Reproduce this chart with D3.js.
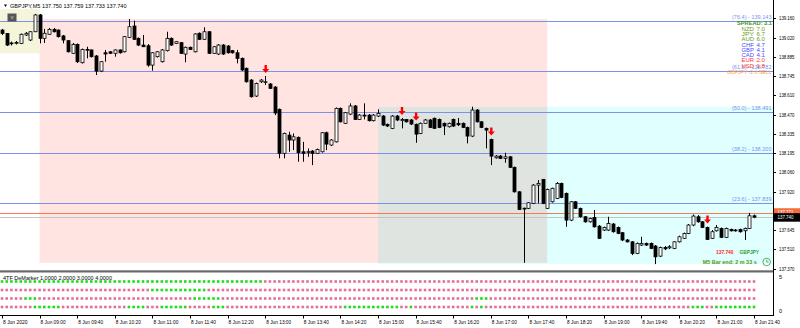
<!DOCTYPE html>
<html>
<head>
<meta charset="utf-8">
<script src="https://cdn.jsdelivr.net/npm/d3@7"></script>
<style>
html, body { margin: 0; padding: 0; background: #fff; overflow: hidden; }
svg { display: block; font-family: "Liberation Sans", Arial, sans-serif; }
</style>
</head>
<body>
<div id="stage"></div>
<script>
const width = 800;
const height = 328;

// GBPJPY M5, 8 Jun 2020 08:20 .. 21:40 (161 bars)
const opens = [
    139.076, 139.051, 138.980, 138.984, 138.981, 139.041, 139.005, 139.064, 139.184, 139.017,
    139.046, 139.081, 139.076, 139.034, 139.000, 138.910, 138.974, 138.843, 138.938, 138.934,
    138.891, 138.783, 138.914, 138.921, 138.910, 138.934, 138.921, 139.024, 139.105, 139.017,
    138.969, 138.964, 138.826, 138.886, 138.850, 138.929, 139.017, 138.981, 138.986, 138.905,
    138.953, 138.921, 139.053, 139.010, 139.064, 138.910, 138.905, 138.969, 138.962, 138.929,
    138.914, 138.874, 138.803, 138.719, 138.605, 138.707, 138.705, 138.691, 138.669, 138.510,
    138.196, 138.326, 138.291, 138.310, 138.207, 138.205, 138.212, 138.196, 138.207, 138.343,
    138.255, 138.278, 138.517, 138.410, 138.476, 138.534, 138.438, 138.469, 138.469, 138.429,
    138.462, 138.462, 138.403, 138.374, 138.462, 138.429, 138.438, 138.434, 138.403, 138.338,
    138.410, 138.434, 138.446, 138.438, 138.410, 138.386, 138.438, 138.410, 138.410, 138.381,
    138.319, 138.505, 138.421, 138.374, 138.295, 138.164, 138.176, 138.160, 138.171, 138.096,
    137.921, 137.801, 137.803, 137.838, 137.969, 138.010, 137.803, 137.850, 137.874, 137.981,
    137.910, 137.719, 137.850, 137.803, 137.743, 137.707, 137.738, 137.676, 137.648, 137.648,
    137.691, 137.667, 137.629, 137.577, 137.564, 137.481, 137.541, 137.553, 137.553, 137.534,
    137.462, 137.524, 137.521, 137.517, 137.564, 137.589, 137.624, 137.684, 137.743, 137.707,
    137.667, 137.589, 137.643, 137.660, 137.596, 137.653, 137.648, 137.653, 137.643, 137.660,
    137.750
];
const highs = [
    139.084, 139.055, 138.994, 138.998, 139.051, 139.062, 139.069, 139.191, 139.191, 139.084,
    139.091, 139.091, 139.080, 139.041, 139.005, 138.984, 138.980, 138.944, 138.957, 138.937,
    138.898, 138.855, 138.934, 138.926, 138.938, 138.937, 139.034, 139.155, 139.143, 139.023,
    139.041, 138.976, 138.919, 138.926, 138.941, 139.064, 139.023, 138.998, 138.991, 138.958,
    138.958, 139.053, 139.059, 139.096, 139.069, 138.962, 138.976, 138.976, 138.969, 138.934,
    138.934, 138.880, 138.808, 138.726, 138.701, 138.726, 138.748, 138.698, 138.676, 138.516,
    138.344, 138.350, 138.338, 138.316, 138.278, 138.231, 138.219, 138.230, 138.348, 138.351,
    138.298, 138.523, 138.523, 138.491, 138.553, 138.541, 138.476, 138.553, 138.476, 138.476,
    138.510, 138.469, 138.408, 138.469, 138.469, 138.448, 138.441, 138.441, 138.408, 138.416,
    138.441, 138.441, 138.451, 138.444, 138.416, 138.416, 138.444, 138.448, 138.416, 138.387,
    138.529, 138.512, 138.426, 138.380, 138.301, 138.184, 138.184, 138.200, 138.176, 138.101,
    137.926, 137.808, 137.848, 137.976, 138.005, 138.012, 137.944, 137.951, 137.991, 137.987,
    137.916, 137.855, 137.855, 137.808, 137.748, 137.737, 137.791, 137.684, 137.673, 137.743,
    137.698, 137.673, 137.634, 137.584, 137.569, 137.559, 137.600, 137.559, 137.559, 137.541,
    137.530, 137.534, 137.541, 137.569, 137.608, 137.630, 137.691, 137.759, 137.755, 137.712,
    137.673, 137.648, 137.684, 137.666, 137.666, 137.658, 137.655, 137.658, 137.666, 137.771,
    137.759
];
const lows = [
    139.041, 138.962, 138.966, 138.973, 138.976, 139.034, 138.998, 139.062, 138.981, 138.984,
    139.041, 139.059, 139.023, 138.981, 138.916, 138.905, 138.841, 138.837, 138.874, 138.880,
    138.755, 138.776, 138.850, 138.905, 138.886, 138.908, 138.916, 139.019, 139.005, 138.962,
    138.955, 138.814, 138.786, 138.880, 138.844, 138.923, 138.962, 138.976, 138.905, 138.846,
    138.934, 138.916, 139.005, 139.005, 138.905, 138.905, 138.898, 138.898, 138.908, 138.908,
    138.838, 138.783, 138.701, 138.594, 138.598, 138.698, 138.684, 138.655, 138.469, 138.160,
    138.160, 138.207, 138.219, 138.136, 138.136, 138.171, 138.112, 138.191, 138.201, 138.219,
    138.248, 138.273, 138.416, 138.405, 138.469, 138.434, 138.434, 138.438, 138.423, 138.423,
    138.455, 138.391, 138.384, 138.369, 138.426, 138.374, 138.416, 138.398, 138.271, 138.333,
    138.405, 138.376, 138.369, 138.376, 138.326, 138.380, 138.384, 138.391, 138.376, 138.267,
    138.312, 138.416, 138.376, 138.231, 138.112, 138.158, 138.155, 138.129, 138.091, 137.916,
    137.791, 137.414, 137.798, 137.833, 137.838, 137.833, 137.798, 137.844, 137.869, 137.876,
    137.671, 137.712, 137.798, 137.737, 137.701, 137.701, 137.666, 137.584, 137.641, 137.641,
    137.630, 137.619, 137.569, 137.559, 137.469, 137.476, 137.534, 137.534, 137.512, 137.405,
    137.455, 137.505, 137.512, 137.512, 137.559, 137.584, 137.619, 137.676, 137.701, 137.662,
    137.577, 137.584, 137.637, 137.591, 137.591, 137.637, 137.637, 137.630, 137.577, 137.655,
    137.733
];
const closes = [
    139.051, 138.969, 138.984, 138.987, 139.046, 139.053, 139.064, 139.184, 139.017, 139.053,
    139.081, 139.064, 139.029, 139.005, 138.921, 138.974, 138.850, 138.938, 138.934, 138.886,
    138.783, 138.850, 138.905, 138.910, 138.934, 138.914, 139.029, 139.100, 139.010, 138.969,
    138.957, 138.826, 138.914, 138.921, 138.934, 139.017, 138.969, 138.993, 138.910, 138.953,
    138.938, 139.048, 139.010, 139.064, 138.910, 138.957, 138.969, 138.905, 138.914, 138.914,
    138.874, 138.791, 138.707, 138.600, 138.695, 138.719, 138.707, 138.660, 138.484, 138.196,
    138.338, 138.291, 138.314, 138.200, 138.196, 138.208, 138.196, 138.224, 138.343, 138.262,
    138.291, 138.517, 138.421, 138.486, 138.534, 138.438, 138.469, 138.462, 138.429, 138.469,
    138.481, 138.398, 138.391, 138.462, 138.434, 138.438, 138.421, 138.405, 138.333, 138.410,
    138.434, 138.381, 138.374, 138.381, 138.391, 138.410, 138.391, 138.400, 138.381, 138.319,
    138.505, 138.421, 138.381, 138.362, 138.176, 138.176, 138.160, 138.171, 138.096, 137.921,
    137.795, 137.804, 137.843, 137.969, 137.981, 137.838, 137.938, 137.946, 137.981, 137.881,
    137.719, 137.850, 137.803, 137.743, 137.707, 137.731, 137.671, 137.589, 137.667, 137.695,
    137.636, 137.624, 137.577, 137.564, 137.481, 137.553, 137.553, 137.541, 137.517, 137.457,
    137.524, 137.514, 137.529, 137.564, 137.600, 137.624, 137.684, 137.748, 137.707, 137.667,
    137.581, 137.636, 137.667, 137.596, 137.660, 137.643, 137.643, 137.636, 137.660, 137.750,
    137.740
];

const askPrice = 137.771;
const bidPrice = 137.740;

const priceTicks = [139.160, 139.020, 138.885, 138.745, 138.610, 138.470, 138.335,
                    138.195, 138.060, 137.920, 137.785, 137.645, 137.510, 137.370];

const fibLevels = ['76.4', '61.8', '50.0', '38.2', '23.6'];
const fibPrices = [139.143, 138.782, 138.491, 138.200, 137.839];

// bars with a sell arrow above them
const arrowBars = [56, 85, 88, 104, 150];

// session boxes (bar index from/to, price low/high)
const boxFrom = [-12, 8, 80];
const boxTo = [8, 116, 175];
const boxLow = [138.910, 137.414, 137.405];
const boxHigh = [139.226, 139.155, 138.529];
const boxColors = ['#f5f5dc', '#ffe4e1', '#e0ffff'];

const strengthNames = ['NZD', 'JPY', 'AUD', 'CHF', 'GBP', 'CAD', 'EUR', 'USD'];
const strengthValues = [7.0, 6.7, 6.0, 4.7, 4.1, 4.1, 2.0, 1.8];

// 4TF DeMarker: level of each row and the bar ranges shown green
const demLevels = [4, 3, 2, 1];
const demGreen = [
    [[0, 55]],
    [[32, 43]],
    [[5, 7], [41, 46], [101, 103]],
    [[7, 12], [27, 30], [34, 39], [45, 47], [73, 84], [87, 87], [100, 100], [102, 102], [147, 149], [152, 160]]
];

const startTime = new Date(2020, 5, 8, 8, 20);
const barTimes = opens.map((d, i) => d3.timeMinute.offset(startTime, 5 * i));

// ---------------------------------------------------------------
const x = d3.scaleLinear().domain([0, 160]).range([2, 754]);
const y = d3.scaleLinear().domain([137.370, 139.160]).range([269, 18.3]);
const yDem = d3.scaleLinear().domain([0, 5]).range([315.5, 273]);

const plotRight = 773;

const svg = d3.select('#stage')
    .append('svg')
    .attr('width', width)
    .attr('height', height)
    .attr('viewBox', [0, 0, width, height]);

svg.append('clipPath').attr('id', 'plotClip')
    .append('rect').attr('x', 0).attr('y', 0).attr('width', plotRight).attr('height', 270);

const plot = svg.append('g').attr('clip-path', 'url(#plotClip)');

// session boxes
const boxes = boxFrom.map((f, k) => ({
    x0: x(f), x1: x(boxTo[k]), y0: y(boxHigh[k]), y1: y(boxLow[k]), color: boxColors[k]
}));
plot.selectAll('rect.box')
    .data(boxes)
    .join('rect')
    .attr('class', 'box')
    .attr('x', d => d.x0)
    .attr('y', d => d.y0)
    .attr('width', d => d.x1 - d.x0)
    .attr('height', d => d.y1 - d.y0)
    .attr('fill', d => d.color);

// the London / New York overlap is drawn xor-ed like the terminal does
const a = boxes[1], b = boxes[2];
const ca = d3.rgb(a.color), cb = d3.rgb(b.color);
const overlapColor = d3.rgb(ca.r ^ cb.r ^ 255, ca.g ^ cb.g ^ 255, ca.b ^ cb.b ^ 255);
plot.append('rect')
    .attr('x', Math.max(a.x0, b.x0))
    .attr('y', Math.max(a.y0, b.y0))
    .attr('width', Math.min(a.x1, b.x1) - Math.max(a.x0, b.x0))
    .attr('height', Math.min(a.y1, b.y1) - Math.max(a.y0, b.y0))
    .attr('fill', overlapColor);

// fibo levels
plot.selectAll('line.fib')
    .data(fibPrices)
    .join('line')
    .attr('class', 'fib')
    .attr('x1', 0).attr('x2', plotRight)
    .attr('y1', d => Math.round(y(d)) + 0.5)
    .attr('y2', d => Math.round(y(d)) + 0.5)
    .attr('stroke', '#7a92ea')
    .attr('stroke-width', 1);

// ask / bid lines
plot.append('line')
    .attr('x1', 0).attr('x2', plotRight)
    .attr('y1', Math.round(y(askPrice)) + 0.5).attr('y2', Math.round(y(askPrice)) + 0.5)
    .attr('stroke', '#f47a50');
plot.append('line')
    .attr('x1', 0).attr('x2', plotRight)
    .attr('y1', Math.round(y(bidPrice)) + 0.5).attr('y2', Math.round(y(bidPrice)) + 0.5)
    .attr('stroke', '#c4c4c4');

// candles
const bars = opens.map((o, i) => ({i: i, o: o, h: highs[i], l: lows[i], c: closes[i]}));
const candle = plot.selectAll('g.candle')
    .data(bars)
    .join('g')
    .attr('class', 'candle');

candle.append('line')
    .attr('x1', d => Math.round(x(d.i)) + 0.5)
    .attr('x2', d => Math.round(x(d.i)) + 0.5)
    .attr('y1', d => y(d.h))
    .attr('y2', d => y(d.l))
    .attr('stroke', '#000')
    .attr('stroke-width', 1);

candle.append('rect')
    .attr('x', d => Math.round(x(d.i)) - 1)
    .attr('y', d => y(Math.max(d.o, d.c)))
    .attr('width', 3)
    .attr('height', d => Math.max(0.8, Math.abs(y(d.o) - y(d.c))))
    .attr('fill', d => d.c >= d.o ? '#fff' : '#000')
    .attr('stroke', '#000')
    .attr('stroke-width', 0.8);

// sell arrows
plot.selectAll('path.arrow')
    .data(arrowBars)
    .join('path')
    .attr('class', 'arrow')
    .attr('d', i => {
        const cx = x(i) + 0.5, tip = y(highs[i]) - 3;
        return `M${cx - 1.2},${tip - 8} h2.4 v4 h2.3 l-3.5,4 l-3.5,-4 h2.3 z`;
    })
    .attr('fill', '#ff0000');

// fibo labels
plot.selectAll('text.fib')
    .data(fibPrices)
    .join('text')
    .attr('class', 'fib')
    .attr('x', 771.5)
    .attr('y', d => y(d) - 2)
    .attr('text-anchor', 'end')
    .attr('font-size', 5.5)
    .attr('fill', '#7a92ea')
    .attr('textLength', 39.5)
    .attr('lengthAdjust', 'spacingAndGlyphs')
    .text((d, k) => `(${fibLevels[k]}) - ${d.toFixed(3)}`);

// currency strength panel
svg.append('text')
    .attr('x', 772).attr('y', 24.5)
    .attr('text-anchor', 'end')
    .attr('font-size', 6).attr('font-weight', 'bold')
    .attr('fill', '#3b8f1f')
    .attr('textLength', 35).attr('lengthAdjust', 'spacingAndGlyphs')
    .text('SPREAD: 3.1');

const strengthColor = v => v >= 5 ? '#6b9a1a' : (v >= 3 ? '#4a4aff' : '#ff3333');
const strength = svg.selectAll('g.strength')
    .data(strengthNames)
    .join('g')
    .attr('class', 'strength');
strength.append('text')
    .attr('x', 754).attr('y', (d, k) => 30.6 + k * 5.3)
    .attr('text-anchor', 'end')
    .attr('font-size', 5.5)
    .attr('fill', (d, k) => strengthColor(strengthValues[k]))
    .attr('textLength', 12.5).attr('lengthAdjust', 'spacingAndGlyphs')
    .text(d => d);
strength.append('text')
    .attr('x', 756.5).attr('y', (d, k) => 30.6 + k * 5.3)
    .attr('font-size', 5.5)
    .attr('fill', (d, k) => strengthColor(strengthValues[k]))
    .attr('textLength', 8.5).attr('lengthAdjust', 'spacingAndGlyphs')
    .text((d, k) => strengthValues[k].toFixed(1));

svg.append('text')
    .attr('x', 771.5).attr('y', 73.6)
    .attr('text-anchor', 'end')
    .attr('font-size', 5.5)
    .attr('fill', '#ffa64d')
    .attr('textLength', 44.5).attr('lengthAdjust', 'spacingAndGlyphs')
    .text('GBPJPY -2.6 SELL');

// bottom right info
svg.append('text')
    .attr('x', 716).attr('y', 254.2)
    .attr('font-size', 6).attr('font-weight', 'bold')
    .attr('fill', '#ff2222')
    .attr('textLength', 17.5).attr('lengthAdjust', 'spacingAndGlyphs')
    .text('137.740');
svg.append('text')
    .attr('x', 739.5).attr('y', 254.2)
    .attr('font-size', 6).attr('font-weight', 'bold')
    .attr('fill', '#2e9e2e')
    .attr('textLength', 19.5).attr('lengthAdjust', 'spacingAndGlyphs')
    .text('GBPJPY');
svg.append('text')
    .attr('x', 702.7).attr('y', 264.2)
    .attr('font-size', 6).attr('font-weight', 'bold')
    .attr('fill', '#4f9a10')
    .attr('textLength', 54).attr('lengthAdjust', 'spacingAndGlyphs')
    .text('M5 Bar end: 2 m 33 s');
const clock = svg.append('g').attr('transform', 'translate(766.7,262)')
    .attr('stroke', '#3d9d3d').attr('fill', 'none').attr('stroke-width', 0.8);
clock.append('circle').attr('r', 3.8);
clock.append('path').attr('d', 'M0,-2.4 V0 H2');

// title
svg.append('path').attr('d', 'M4,4.5 h3 l-1.5,2.5 z').attr('fill', '#000');
svg.append('text')
    .attr('x', 10).attr('y', 7.8)
    .attr('font-size', 5.5)
    .attr('fill', '#000')
    .attr('textLength', 116.5).attr('lengthAdjust', 'spacingAndGlyphs')
    .text(`GBPJPY,M5 ${opens[160].toFixed(3)} ${highs[160].toFixed(3)} ${lows[160].toFixed(3)} ${closes[160].toFixed(3)}`);
svg.append('rect')
    .attr('x', 7.5).attr('y', 13.5).attr('width', 9).attr('height', 8)
    .attr('fill', '#555');
svg.append('text')
    .attr('x', 12).attr('y', 19.3)
    .attr('text-anchor', 'middle')
    .attr('font-size', 5.5)
    .attr('fill', '#ddd')
    .text('v');

// price axis
svg.append('line')
    .attr('x1', plotRight + 0.5).attr('x2', plotRight + 0.5)
    .attr('y1', 0).attr('y2', 316)
    .attr('stroke', '#000');
svg.selectAll('line.ptick')
    .data(priceTicks)
    .join('line')
    .attr('class', 'ptick')
    .attr('x1', plotRight).attr('x2', plotRight + 3)
    .attr('y1', d => Math.round(y(d)) + 0.5)
    .attr('y2', d => Math.round(y(d)) + 0.5)
    .attr('stroke', '#000');
svg.selectAll('text.ptick')
    .data(priceTicks)
    .join('text')
    .attr('class', 'ptick')
    .attr('x', 779).attr('y', d => y(d) + 2)
    .attr('font-size', 5.5)
    .attr('fill', '#000')
    .attr('textLength', 15.5).attr('lengthAdjust', 'spacingAndGlyphs')
    .text(d => d.toFixed(3));

// ask / bid price boxes
[[askPrice, '#f36d3c', -4.6], [bidPrice, '#000', -4]].forEach(([p, col, off]) => {
    svg.append('rect')
        .attr('x', plotRight + 1).attr('y', y(p) + off)
        .attr('width', 27).attr('height', 8.5)
        .attr('fill', col);
    svg.append('text')
        .attr('x', 777.5).attr('y', y(p) + off + 6.2)
        .attr('font-size', 5.5)
        .attr('fill', '#fff')
        .attr('textLength', 16).attr('lengthAdjust', 'spacingAndGlyphs')
        .text(p.toFixed(3));
});

// panel separator
svg.append('rect')
    .attr('x', 0).attr('y', 270.3).attr('width', plotRight).attr('height', 2.2)
    .attr('fill', '#6a6a6a');

// DeMarker panel
const dots = [];
demLevels.forEach((lvl, r) => {
    opens.forEach((o, i) => {
        const green = demGreen[r].some(([s, e]) => i >= s && i <= e);
        dots.push({i: i, lvl: lvl, green: green});
    });
});
svg.selectAll('rect.dot')
    .data(dots)
    .join('rect')
    .attr('class', 'dot')
    .attr('x', d => x(d.i) - 1.3)
    .attr('y', d => yDem(d.lvl) - 1.3)
    .attr('width', 2.6)
    .attr('height', 2.6)
    .attr('fill', d => d.green ? '#1fdc1f' : '#e3709a');

svg.append('text')
    .attr('x', 3).attr('y', 280.3)
    .attr('font-size', 5.5)
    .attr('fill', '#000')
    .attr('textLength', 109).attr('lengthAdjust', 'spacingAndGlyphs')
    .text('4TF DeMarker 1.0000 2.0000 3.0000 4.0000');

svg.append('text')
    .attr('x', 779).attr('y', yDem(5) + 6)
    .attr('font-size', 5.5).attr('fill', '#000')
    .text('5');
svg.append('text')
    .attr('x', 779).attr('y', yDem(0) - 2.5)
    .attr('font-size', 5.5).attr('fill', '#000')
    .text('0');

// time axis
svg.append('line')
    .attr('x1', 0).attr('x2', plotRight + 1)
    .attr('y1', 315.5).attr('y2', 315.5)
    .attr('stroke', '#000');

const timeTicks = d3.range(0, 161, 8);
const fmt = d3.timeFormat('%-d %b %H:%M');
svg.selectAll('line.ttick')
    .data(timeTicks)
    .join('line')
    .attr('class', 'ttick')
    .attr('x1', i => Math.round(x(i)) + 0.5)
    .attr('x2', i => Math.round(x(i)) + 0.5)
    .attr('y1', 315.5).attr('y2', 318.5)
    .attr('stroke', '#000');
svg.selectAll('text.ttick')
    .data(timeTicks)
    .join('text')
    .attr('class', 'ttick')
    .attr('x', i => x(i) + 1)
    .attr('y', 324.3)
    .attr('font-size', 5.5)
    .attr('fill', '#000')
    .attr('textLength', i => i === 0 ? 24.5 : 25)
    .attr('lengthAdjust', 'spacingAndGlyphs')
    .text(i => i === 0 ? '8 Jun 2020' : fmt(barTimes[i]));
</script>
</body>
</html>
